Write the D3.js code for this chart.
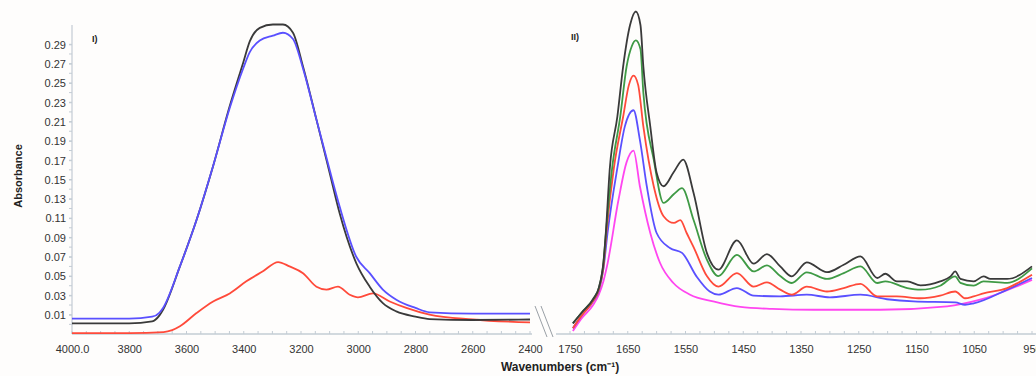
<!DOCTYPE html>
<html><head><meta charset="utf-8">
<script src="https://cdn.jsdelivr.net/npm/d3@7"></script>
<style>
html,body{margin:0;padding:0;background:#fefdfc;}
svg{display:block;font-family:"Liberation Sans",Arial,sans-serif;}
</style></head>
<body><svg id="c" width="1036" height="376"></svg>
<script>
// ---- data (wavenumber cm-1, absorbance) ----
const yTicks = [0.01,0.03,0.05,0.07,0.09,0.11,0.13,0.15,0.17,0.19,0.21,0.23,0.25,0.27,0.29];
const leftTicks = [4000,3800,3600,3400,3200,3000,2800,2600,2400];
const leftTickLabels = ["4000.0","3800","3600","3400","3200","3000","2800","2600","2400"];
const rightTicks = [1750,1650,1550,1450,1350,1250,1150,1050,950];

const leftBlack = [[4000,0.001],[3800,0.001],[3720,0.003],[3695,0.009],[3682,0.015],[3623,0.060],[3565,0.108],[3507,0.164],[3449,0.226],[3402,0.271],[3379,0.293],[3344,0.307],[3298,0.3105],[3263,0.3105],[3228,0.302],[3193,0.267],[3146,0.212],[3100,0.157],[3065,0.115],[3007,0.0635],[2960,0.039],[2914,0.022],[2867,0.0134],[2800,0.008],[2751,0.0055],[2600,0.0045],[2400,0.005]];
const leftBlue = [[4000,0.006],[3800,0.006],[3720,0.008],[3695,0.012],[3682,0.017],[3623,0.060],[3565,0.108],[3507,0.164],[3449,0.224],[3402,0.265],[3379,0.282],[3344,0.294],[3298,0.299],[3263,0.302],[3228,0.2955],[3193,0.265],[3146,0.212],[3100,0.160],[3065,0.122],[3007,0.070],[2960,0.053],[2914,0.036],[2867,0.0255],[2800,0.017],[2751,0.0125],[2600,0.011],[2400,0.011]];
const leftRed = [[4000,-0.009],[3800,-0.009],[3680,-0.008],[3650,-0.006],[3623,-0.002],[3565,0.0117],[3507,0.0237],[3449,0.032],[3391,0.0445],[3333,0.055],[3280,0.0645],[3240,0.060],[3193,0.053],[3146,0.039],[3111,0.036],[3071,0.039],[3030,0.0307],[3001,0.028],[2949,0.032],[2890,0.0237],[2832,0.017],[2751,0.010],[2600,0.005],[2400,0.002]];

const rightBlack = [[1745,0.001],[1730,0.012],[1710,0.026],[1700,0.038],[1692,0.065],[1688,0.0946],[1681,0.162],[1668,0.215],[1658,0.267],[1646,0.31],[1636,0.324],[1628,0.31],[1623,0.267],[1611,0.205],[1600,0.157],[1588,0.143],[1570,0.158],[1554,0.1706],[1536,0.136],[1513,0.074],[1493,0.0566],[1461,0.087],[1432,0.0628],[1409,0.0728],[1386,0.060],[1366,0.0497],[1340,0.0642],[1305,0.054],[1276,0.0617],[1247,0.0704],[1218,0.048],[1204,0.0524],[1184,0.0445],[1166,0.0445],[1143,0.0403],[1109,0.0445],[1091,0.0497],[1083,0.0548],[1074,0.047],[1051,0.0445],[1034,0.0497],[1022,0.047],[993,0.047],[950,0.060]];
const rightGreen = [[1745,0.001],[1730,0.012],[1710,0.026],[1700,0.038],[1692,0.064],[1688,0.093],[1677,0.162],[1663,0.215],[1652,0.267],[1643,0.288],[1636,0.294],[1628,0.285],[1623,0.24],[1605,0.1706],[1588,0.1257],[1570,0.135],[1556,0.141],[1536,0.108],[1513,0.067],[1493,0.050],[1461,0.072],[1432,0.0548],[1409,0.061],[1386,0.050],[1366,0.0428],[1340,0.0538],[1305,0.047],[1276,0.053],[1247,0.060],[1218,0.0428],[1204,0.0445],[1166,0.0376],[1143,0.0359],[1109,0.040],[1083,0.0497],[1074,0.043],[1051,0.040],[1034,0.0445],[993,0.043],[950,0.058]];
const rightRed = [[1745,-0.004],[1730,0.009],[1710,0.024],[1700,0.036],[1692,0.060],[1687,0.0946],[1674,0.162],[1658,0.215],[1648,0.248],[1640,0.2576],[1632,0.248],[1623,0.205],[1605,0.143],[1588,0.112],[1570,0.105],[1559,0.108],[1548,0.0946],[1536,0.080],[1513,0.050],[1493,0.039],[1461,0.053],[1432,0.039],[1409,0.0434],[1386,0.0359],[1366,0.0307],[1340,0.039],[1305,0.034],[1276,0.0376],[1247,0.042],[1218,0.029],[1184,0.029],[1143,0.027],[1109,0.0297],[1083,0.034],[1066,0.027],[1051,0.029],[1034,0.032],[993,0.0376],[950,0.0514]];
const rightBlue = [[1745,-0.004],[1730,0.009],[1710,0.024],[1700,0.035],[1692,0.058],[1685,0.0946],[1668,0.162],[1655,0.205],[1640,0.2217],[1629,0.191],[1617,0.143],[1600,0.0946],[1577,0.079],[1556,0.074],[1531,0.0497],[1508,0.034],[1493,0.0307],[1461,0.0376],[1432,0.0297],[1386,0.029],[1340,0.0307],[1300,0.028],[1247,0.0307],[1201,0.026],[1155,0.0237],[1083,0.0227],[1066,0.0203],[1051,0.0217],[993,0.0359],[950,0.048]];
const rightMagenta = [[1745,-0.007],[1730,0.006],[1710,0.020],[1700,0.031],[1692,0.045],[1686,0.060],[1666,0.129],[1652,0.168],[1640,0.180],[1629,0.143],[1611,0.0946],[1594,0.0635],[1571,0.0428],[1542,0.0307],[1502,0.0237],[1455,0.018],[1400,0.016],[1328,0.0151],[1213,0.0151],[1097,0.0186],[1040,0.0255],[950,0.046]];

const colBlack="#3a3a3a", colBlue="#5a50ff", colRed="#ff4a3a", colGreen="#3f9a45", colMag="#ff46f0";

// ---- scales ----
const svg = d3.select("#c");
const y = d3.scaleLinear().domain([-0.01,0.31]).range([334,25]);
const xL = d3.scaleLinear().domain([4000,2400]).range([72,530]);
const xR = d3.scaleLinear().domain([1750,950]).range([570,1032]);
const axisCol = "#c3ccd4";

// y axis
const ya = svg.append("g").attr("transform","translate(72,0)")
  .call(d3.axisLeft(y).tickValues(yTicks).tickSize(3).tickFormat(d3.format(".2f")));
ya.select(".domain").attr("stroke",axisCol).attr("stroke-width",1.2).attr("d","M0,25V334");
ya.selectAll(".tick line").attr("stroke",axisCol);
ya.selectAll(".tick text").attr("font-size",11).attr("fill","#333").attr("x",-6).attr("dy","0.35em");
// minor y ticks
svg.append("g").selectAll("line").data(d3.range(0,0.30,0.01)).join("line")
  .attr("x1",69).attr("x2",72).attr("y1",d=>y(d)).attr("y2",d=>y(d)).attr("stroke",axisCol);

// x axes
function xaxis(sc, ticks, labels, x0, x1){
  const g = svg.append("g").attr("transform","translate(0,334)")
    .call(d3.axisBottom(sc).tickValues(ticks).tickSize(0).tickPadding(11)
      .tickFormat((d,i)=>labels ? labels[i] : d));
  g.select(".domain").attr("stroke",axisCol).attr("stroke-width",1.5).attr("d",`M${x0},0H${x1}`);
  g.selectAll(".tick text").attr("font-size",11).attr("fill","#333");
  return g;
}
xaxis(xL, leftTicks, leftTickLabels, 72, 532);
xaxis(xR, rightTicks, null, 556, 1036);
// minor x ticks
svg.append("g").selectAll("line").data(d3.range(4000,2399,-50)).join("line")
  .attr("x1",d=>xL(d)).attr("x2",d=>xL(d)).attr("y1",331).attr("y2",334).attr("stroke",axisCol);
svg.append("g").selectAll("line").data(d3.range(1750,949,-25)).join("line")
  .attr("x1",d=>xR(d)).attr("x2",d=>xR(d)).attr("y1",331).attr("y2",334).attr("stroke",axisCol);

// break marks
svg.append("line").attr("x1",535).attr("y1",306).attr("x2",547).attr("y2",337).attr("stroke","#9aa0a6").attr("stroke-width",1);
svg.append("line").attr("x1",541).attr("y1",306).attr("x2",553).attr("y2",337).attr("stroke","#9aa0a6").attr("stroke-width",1);

// lines
const lineL = d3.line().x(d=>xL(d[0])).y(d=>y(d[1])).curve(d3.curveMonotoneX);
const lineR = d3.line().x(d=>xR(d[0])).y(d=>y(d[1])).curve(d3.curveMonotoneX);
function draw(gen, data, col){
  svg.append("path").attr("d",gen(data)).attr("fill","none").attr("stroke",col)
    .attr("stroke-width",1.8).attr("stroke-linejoin","round");
}
draw(lineL, leftRed, colRed);
draw(lineL, leftBlack, colBlack);
draw(lineL, leftBlue, colBlue);
draw(lineR, rightMagenta, colMag);
draw(lineR, rightBlue, colBlue);
draw(lineR, rightRed, colRed);
draw(lineR, rightGreen, colGreen);
draw(lineR, rightBlack, colBlack);

// labels
svg.append("text").attr("x",92).attr("y",42).attr("font-size",9).attr("font-weight","bold").attr("fill","#222").text("I)");
svg.append("text").attr("x",571).attr("y",40).attr("font-size",9).attr("font-weight","bold").attr("fill","#222").text("II)");
svg.append("text").attr("transform","translate(22,176) rotate(-90)").attr("text-anchor","middle")
  .attr("font-size",11).attr("font-weight","bold").attr("fill","#222").text("Absorbance");
svg.append("text").attr("x",560).attr("y",371).attr("text-anchor","middle")
  .attr("font-size",12).attr("font-weight","bold").attr("fill","#222").text("Wavenumbers (cm⁻¹)");
</script></body></html>
